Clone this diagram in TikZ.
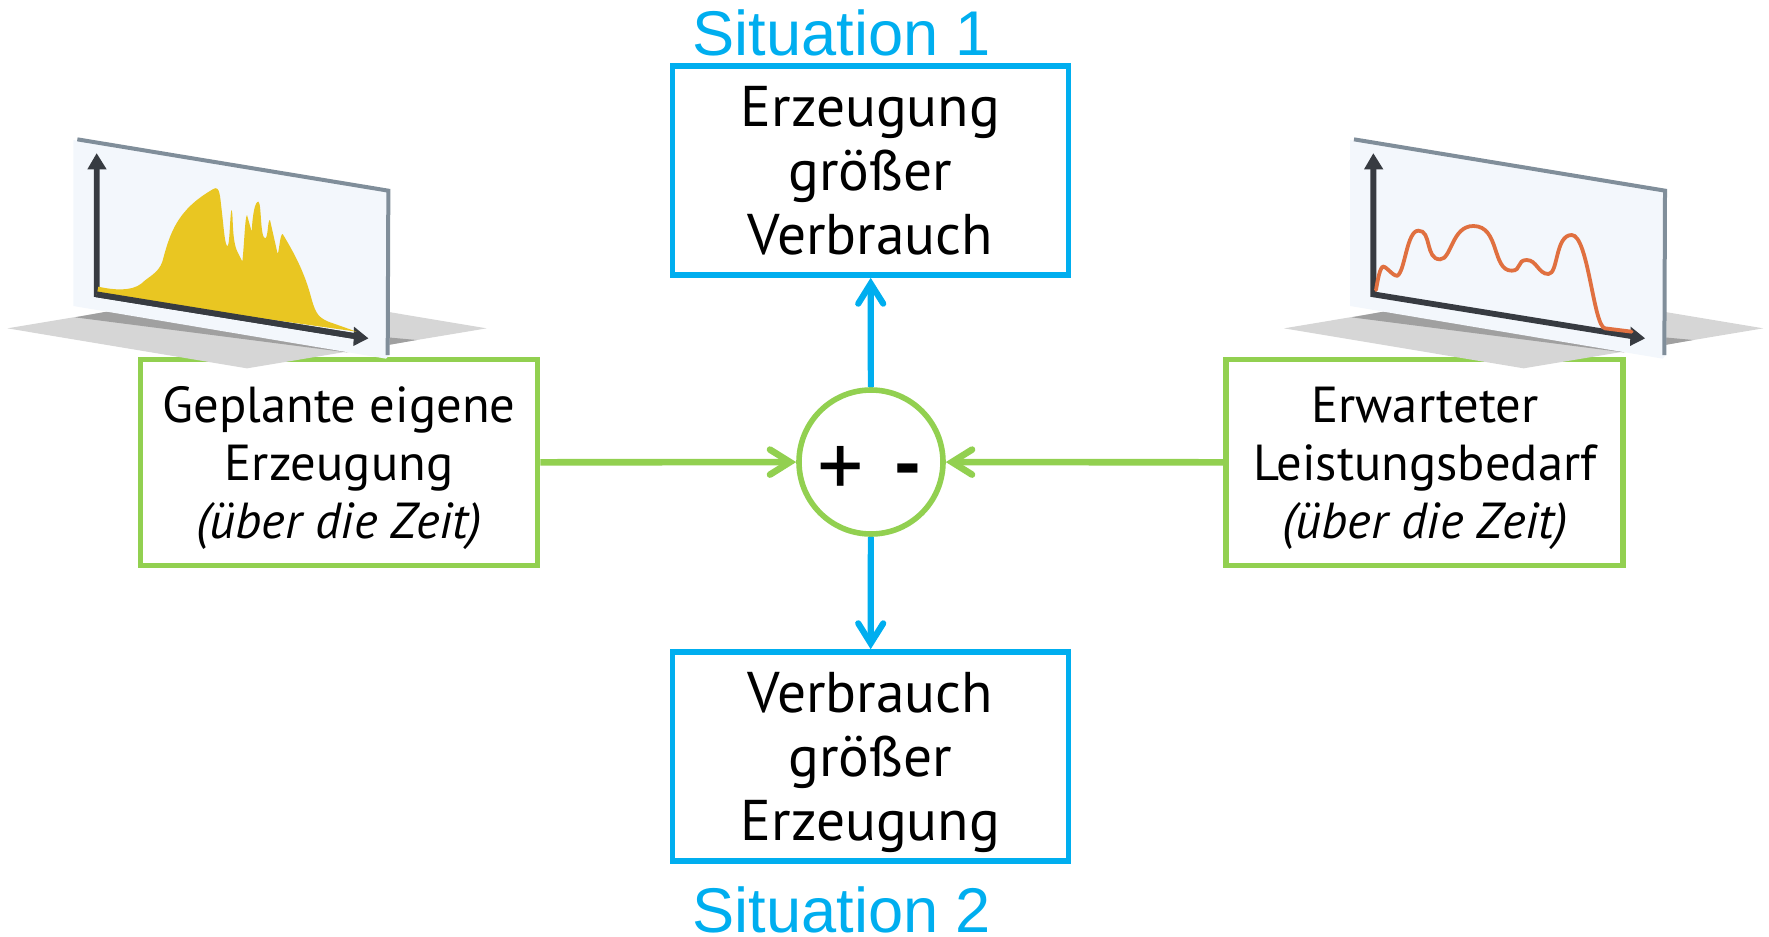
\documentclass[tikz,border=0pt]{standalone}
\usepackage{fontspec}
\setmainfont{PT Sans}
\newfontfamily\arialfont{Liberation Sans}
\usetikzlibrary{arrows.meta}
\definecolor{cblue}{HTML}{00AEEF}
\definecolor{cgreen}{HTML}{92D050}
\definecolor{cpanel}{HTML}{F3F7FC}
\definecolor{cedge}{HTML}{808E9A}
\definecolor{caxis}{HTML}{373B41}
\definecolor{cground}{HTML}{D6D6D6}
\definecolor{cshadow}{HTML}{A0A0A0}
\definecolor{cyell}{HTML}{E9C622}
\definecolor{corange}{HTML}{E07040}
\tikzset{
  bluebox/.style={draw=cblue,line width=2.8pt,minimum width=198pt,minimum height=104.5pt,inner sep=0pt},
  greenbox/.style={draw=cgreen,line width=2.8pt,minimum width=198.5pt,minimum height=103pt,inner sep=0pt},
  bluetext/.style={inner sep=0pt,align=center,text=black,font=\fontsize{28.7}{32}\selectfont},
  greentext/.style={inner sep=0pt,align=center,text=black,font=\fontsize{25.3}{29}\selectfont},
  sumcircle/.style={circle,draw=cgreen,line width=2.8pt,minimum size=72pt,inner sep=0pt},
  sign/.style={inner sep=0pt,anchor=base,text=black,font=\fontsize{46}{46}\selectfont},
  situ/.style={inner sep=0pt,anchor=base west,text=cblue,font=\arialfont\fontsize{31.6}{32}\selectfont},
  gconn/.style={draw=cgreen,line width=3.3pt,-{Straight Barb[length=10pt,width=12.5pt,line cap=round]}},
  bconn/.style={draw=cblue,line width=3.1pt,-{Straight Barb[length=10pt,width=12.5pt,line cap=round]}},
  panelpic/.pic={
    \fill[cground] (22,625) -- (741,505) -- (1460,625) -- (741,745) -- cycle;
    \fill[cshadow] (225,592) -- (320,575) -- (1250,660) -- (1040,697) -- cycle;
    \fill[cpanel] (220,60) -- (1168,212) -- (1168,705) -- (1158,716) -- (220,558) -- cycle;
    \draw[cedge,line width=2pt] (232,58) -- (1165,212) -- (1163,705);
    \draw[caxis,line width=2.9pt] (290,140) -- (290,523) -- (1075,650);
    \fill[caxis] (290,100) -- (320,148) -- (262,148) -- cycle;
    \fill[caxis] (1105,655) -- (1060,678) -- (1062,620) -- cycle;
  }
}
\begin{document}
\begin{tikzpicture}[x=0.5pt,y=-0.5pt]
\useasboundingbox (0,0) rectangle (1769,937);
\node[sumcircle] (sum) at (871,462) {};
\node[sign] (plus) at (841,497) {+};
\node[sign,font=\fontsize{40}{40}\selectfont\bfseries] (minus) at (908,491) {-};
\node[bluebox] (top) at (870.5,170.5) {};
\node[bluebox] (bottom) at (870.5,756.5) {};
\node[greenbox] (left) at (339,462.5) {};
\node[greenbox] (right) at (1424.5,462.5) {};
\node[bluetext] (toptext) at (870.5,170.5) {Erzeugung\\größer\\Verbrauch};
\node[bluetext] (bottomtext) at (870.5,762) {Verbrauch\\größer\\Erzeugung};
\node[greentext] (lefttext) at (339,468) {Geplante eigene\\Erzeugung\\\textit{(über die Zeit)}};
\node[greentext] (righttext) at (1425,468) {Erwarteter\\Leistungsbedarf\\\textit{(über die Zeit)}};
\node[situ] (s1) at (692,55) {Situation 1};
\node[situ] (s2) at (692,932) {Situation 2};
\draw[gconn] (left) -- (sum);
\draw[gconn] (right) -- (sum);
\draw[bconn] (sum) -- (top);
\draw[bconn] (sum) -- (bottom);
% left chart
\begin{scope}[shift={(0,120)},x=0.16667pt,y=-0.16667pt]
\pic {panelpic};
\fill[cyell] (295,500) .. controls (340,510) and (395,515) .. (425,490)
  .. controls (445,470) and (475,460) .. (487,425)
  .. controls (510,340) and (530,270) .. (640,207)
  .. controls (660,195) and (660,230) .. (665,270)
  .. controls (672,330) and (675,380) .. (683,378)
  .. controls (690,370) and (690,270) .. (695,270)
  .. controls (700,280) and (695,360) .. (712,395)
  -- (727,425) .. controls (733,370) and (735,290) .. (741,285)
  -- (755,335) .. controls (758,280) and (765,245) .. (775,245)
  .. controls (785,250) and (780,350) .. (795,355)
  .. controls (805,355) and (802,300) .. (810,300)
  -- (833,402) .. controls (838,390) and (840,342) .. (848,342)
  .. controls (880,395) and (910,450) .. (930,520)
  .. controls (945,575) and (950,590) .. (985,605)
  -- (1070,635) -- (290,525) -- cycle;
\draw[caxis,line width=2.9pt] (290,523) -- (1075,650);
\end{scope}
% right chart
\begin{scope}[shift={(1276.67,120)},x=0.16667pt,y=-0.16667pt]
\pic {panelpic};
\draw[corange,line width=1.9pt,line cap=round] (298,510)
  .. controls (303,480) and (310,440) .. (320,440)
  .. controls (330,440) and (350,470) .. (362,467)
  .. controls (385,455) and (390,332) .. (425,332)
  .. controls (465,330) and (445,418) .. (490,418)
  .. controls (525,418) and (525,318) .. (590,318)
  .. controls (670,318) and (645,452) .. (705,452)
  .. controls (735,452) and (720,420) .. (750,420)
  .. controls (780,420) and (785,462) .. (815,462)
  .. controls (845,462) and (835,345) .. (885,345)
  .. controls (935,345) and (950,620) .. (985,625)
  -- (1065,635);
\end{scope}
\end{tikzpicture}
\end{document}
